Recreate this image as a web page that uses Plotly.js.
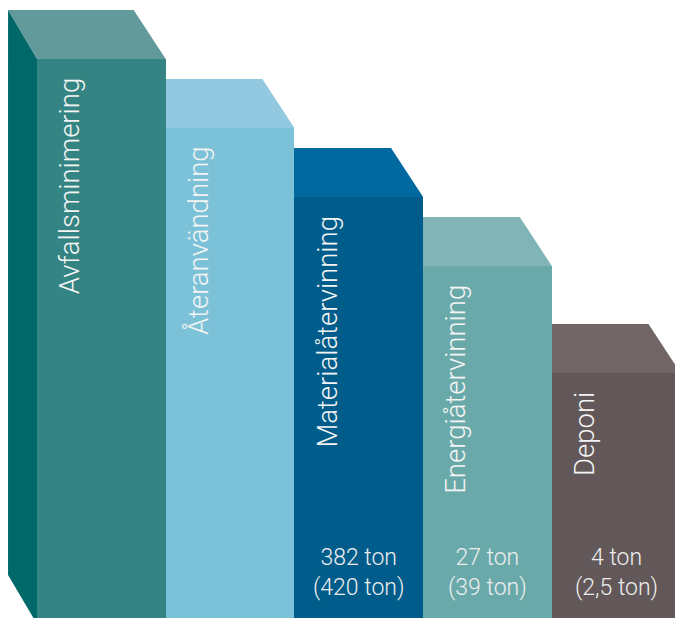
<!DOCTYPE html>
<html>
<head>
<meta charset="utf-8">
<script src="https://cdn.plot.ly/plotly-3.0.1.min.js"></script>
<style>html,body{margin:0;padding:0;background:#fff;}#chart{width:675px;height:618px;}</style>
</head>
<body>
<div id="chart"></div>
<script>
// Waste hierarchy steps (left to right)
const categories = ["Avfallsminimering", "Återanvändning", "Materialåtervinning", "Energiåtervinning", "Deponi"];
// Step heights (relative units, bottom = 0)
const levels = [559, 490, 421, 352, 245];
// Amounts shown on the lower steps (this year, previous year in brackets)
const currentTons = [null, null, "382", "27", "4"];
const previousTons = [null, null, "420", "39", "2,5"];

const frontColors = ["#348484", "#7bc1d8", "#005c8a", "#6aa9aa", "#625859"];
const topColors   = ["#62999b", "#92c8e0", "#006aa0", "#80b4b6", "#716566"];
const sideColor   = "#006868";

const depthXRight = 0.249;  // perspective offset (right back corner), category units
const depthXLeft = 0.225;   // perspective offset (left back corner)
const depthY = 49;          // perspective offset in y units
const half = 0.5;

const shapes = [];
categories.forEach((c, i) => {
  const h = levels[i];
  const x0 = i - half, x1 = i + half;
  shapes.push({
    type: "path", xref: "x", yref: "y", layer: "below",
    path: `M ${x0} ${h} L ${x1} ${h} L ${x1 - depthXRight} ${h + depthY} L ${x0 - depthXLeft} ${h + depthY} Z`,
    fillcolor: topColors[i], line: {width: 0}
  });
});
// left side face of the first step
shapes.push({
  type: "path", xref: "x", yref: "y", layer: "below",
  path: `M ${-half} ${levels[0]} L ${-half - depthXLeft} ${levels[0] + depthY} L ${-half - depthXLeft} ${depthY - 6} L ${-half} ${-6} Z`,
  fillcolor: sideColor, line: {width: 0}
});

const annotations = [];
const labelFont = {family: "Roboto, 'Open Sans', sans-serif", size: 27.5, color: "#f4f4f4", weight: 300};
categories.forEach((c, i) => {
  annotations.push({
    x: i - 0.25, y: levels[i] - 17, xref: "x", yref: "y",
    text: c, showarrow: false, textangle: -90,
    xanchor: "center", yanchor: "top",
    font: labelFont
  });
  if (currentTons[i] !== null) {
    annotations.push({
      x: i, y: 46, xref: "x", yref: "y",
      text: currentTons[i] + " ton<br>(" + previousTons[i] + " ton)",
      showarrow: false, xanchor: "center", yanchor: "middle",
      font: {family: "Roboto, 'Open Sans', sans-serif", size: 23, color: "#eeeeee", weight: 300}
    });
  }
});

const trace = {
  type: "bar",
  x: categories,
  y: levels,
  width: 1,
  marker: {color: frontColors, line: {width: 0}},
  hoverinfo: "skip"
};

const layout = {
  width: 675, height: 618,
  margin: {l: 0, r: 0, t: 0, b: 0, pad: 0},
  paper_bgcolor: "rgba(0,0,0,0)",
  plot_bgcolor: "rgba(0,0,0,0)",
  showlegend: false,
  bargap: 0,
  xaxis: {visible: false, type: "category", range: [-0.7875, 4.457], fixedrange: true},
  yaxis: {visible: false, range: [0, 618], fixedrange: true},
  shapes: shapes,
  annotations: annotations
};

Plotly.newPlot("chart", [trace], layout, {staticPlot: true, displayModeBar: false});
</script>
</body>
</html>
